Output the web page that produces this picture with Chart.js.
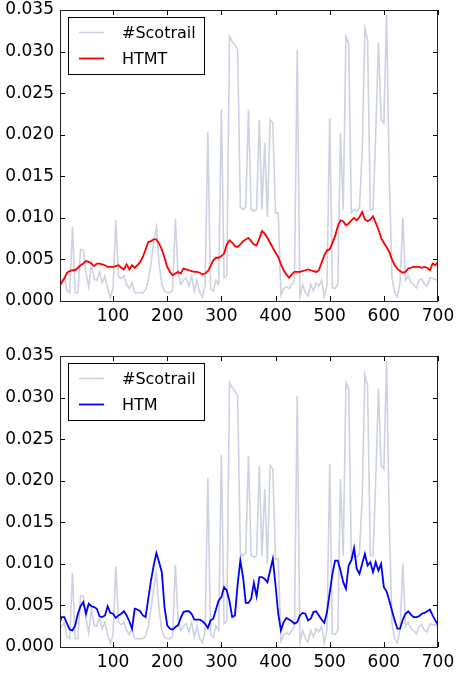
<!DOCTYPE html>
<html>
<head>
<meta charset="utf-8">
<script src="https://cdn.jsdelivr.net/npm/chart.js@4/dist/chart.umd.min.js"></script>
<style>
  html, body { margin: 0; padding: 0; background: #ffffff; }
  .panel { position: absolute; left: 0; width: 456px; height: 337px; }
  #p1 { top: 0; }
  #p2 { top: 337px; }
</style>
</head>
<body>
<div class="panel" id="p1"><canvas id="c1" width="456" height="337"></canvas></div>
<div class="panel" id="p2"><canvas id="c2" width="456" height="337"></canvas></div>
<script>
// ---- data ----
const xValues = [0,5,10,15,20,25,30,35,40,45,50,55,60,65,70,75,80,85,90,95,
100,105,110,115,120,125,130,135,140,145,150,155,160,165,170,175,180,185,190,195,
200,205,210,215,220,225,230,235,240,245,250,255,260,265,270,275,280,285,290,295,
300,305,310,315,320,325,330,335,340,345,350,355,360,365,370,375,380,385,390,395,
400,405,410,415,420,425,430,435,440,445,450,455,460,465,470,475,480,485,490,495,
500,505,510,515,520,525,530,535,540,545,550,555,560,565,570,575,580,585,590,595,
600,605,610,615,620,625,630,635,640,645,650,655,660,665,670,675,680,685,690,695,700];

const scotrail = [0.0019,0.0025,0.0029,0.0012,0.0010,0.0089,0.0010,0.0010,0.0062,0.0061,
0.0034,0.0017,0.0046,0.0026,0.0025,0.0035,0.0022,0.0030,0.0015,0.0004,
0.0015,0.0097,0.0030,0.0027,0.0030,0.0020,0.0015,0.0022,0.0010,0.0010,
0.0010,0.0010,0.0013,0.0025,0.0045,0.0070,0.0089,0.0045,0.0020,0.0012,
0.0010,0.0010,0.0013,0.0099,0.0034,0.0020,0.0025,0.0028,0.0018,0.0030,
0.0012,0.0025,0.0010,0.0005,0.0020,0.0203,0.0015,0.0012,0.0025,0.0020,
0.0231,0.0028,0.0031,0.0318,0.0312,0.0308,0.0302,0.0113,0.0110,0.0113,
0.0230,0.0110,0.0108,0.0110,0.0218,0.0110,0.0190,0.0101,0.0218,0.0214,
0.0106,0.0106,0.0007,0.0015,0.0017,0.0015,0.0020,0.0025,0.0302,0.0005,
0.0020,0.0010,0.0006,0.0020,0.0012,0.0022,0.0018,0.0025,0.0005,0.0020,
0.0220,0.0016,0.0015,0.0020,0.0202,0.0110,0.0318,0.0310,0.0106,0.0110,
0.0108,0.0112,0.0180,0.0328,0.0314,0.0110,0.0110,0.0200,0.0311,0.0218,
0.0214,0.0344,0.0150,0.0029,0.0010,0.0005,0.0022,0.0100,0.0025,0.0030,
0.0022,0.0020,0.0016,0.0025,0.0027,0.0020,0.0018,0.0028,0.0027,0.0026,0.0025];

const htmt = [0.0017,0.0022,0.0027,0.0034,0.0036,0.0037,0.0037,0.0040,0.0043,0.0045,
0.0048,0.0047,0.0045,0.0042,0.0045,0.0045,0.0044,0.0043,0.0041,0.0041,
0.0041,0.0042,0.0043,0.0040,0.0038,0.0044,0.0038,0.0043,0.0040,0.0043,
0.0047,0.0053,0.0062,0.0071,0.0072,0.0074,0.0074,0.0069,0.0062,0.0052,
0.0041,0.0035,0.0031,0.0033,0.0035,0.0033,0.0039,0.0038,0.0037,0.0036,
0.0035,0.0035,0.0034,0.0032,0.0033,0.0036,0.0042,0.0049,0.0052,0.0052,
0.0054,0.0057,0.0068,0.0073,0.0070,0.0066,0.0065,0.0068,0.0072,0.0074,
0.0076,0.0072,0.0068,0.0067,0.0075,0.0084,0.0081,0.0076,0.0070,0.0064,
0.0058,0.0053,0.0044,0.0037,0.0032,0.0028,0.0032,0.0035,0.0035,0.0035,
0.0036,0.0037,0.0038,0.0037,0.0036,0.0035,0.0037,0.0046,0.0055,0.0061,
0.0062,0.0070,0.0078,0.0090,0.0097,0.0096,0.0091,0.0093,0.0097,0.0100,
0.0097,0.0101,0.0107,0.0098,0.0096,0.0098,0.0102,0.0094,0.0086,0.0076,
0.0070,0.0065,0.0059,0.0050,0.0043,0.0039,0.0036,0.0034,0.0035,0.0039,
0.0040,0.0041,0.0041,0.0041,0.0040,0.0041,0.0040,0.0037,0.0045,0.0043,0.0047];

const htm = [0.0026,0.0036,0.0036,0.0028,0.0021,0.0020,0.0026,0.0040,0.0049,0.0054,
0.0040,0.0052,0.0049,0.0048,0.0046,0.0037,0.0036,0.0038,0.0049,0.0041,
0.0040,0.0035,0.0038,0.0040,0.0043,0.0038,0.0031,0.0022,0.0046,0.0045,
0.0043,0.0038,0.0036,0.0058,0.0080,0.0098,0.0113,0.0102,0.0090,0.0048,
0.0026,0.0022,0.0021,0.0024,0.0026,0.0035,0.0042,0.0043,0.0043,0.0040,
0.0033,0.0033,0.0033,0.0031,0.0028,0.0023,0.0032,0.0034,0.0045,0.0056,
0.0060,0.0072,0.0068,0.0055,0.0036,0.0038,0.0075,0.0104,0.0084,0.0053,
0.0053,0.0058,0.0077,0.0061,0.0084,0.0084,0.0082,0.0078,0.0092,0.0106,
0.0074,0.0040,0.0020,0.0030,0.0035,0.0033,0.0031,0.0028,0.0030,0.0038,
0.0041,0.0040,0.0032,0.0034,0.0042,0.0043,0.0038,0.0033,0.0029,0.0042,
0.0065,0.0088,0.0104,0.0104,0.0092,0.0078,0.0070,0.0098,0.0104,0.0119,
0.0094,0.0088,0.0100,0.0112,0.0098,0.0102,0.0090,0.0102,0.0092,0.0100,
0.0072,0.0067,0.0056,0.0044,0.0032,0.0022,0.0022,0.0033,0.0040,0.0043,
0.0039,0.0036,0.0036,0.0037,0.0040,0.0041,0.0043,0.0045,0.0038,0.0032,0.0026];

const xTickValues = [100, 200, 300, 400, 500, 600, 700];
const yTickValues = [0, 0.005, 0.010, 0.015, 0.020, 0.025, 0.030, 0.035];

const grayColor = 'rgb(206,209,226)';

Chart.defaults.font.family = "'DejaVu Sans', 'Liberation Sans', sans-serif";
Chart.defaults.font.size = 17;
Chart.defaults.color = '#000000';

function pts(ys) { return xValues.map((x, i) => ({ x: x, y: ys[i] })); }

// frame + inward tick marks + matplotlib-like legend box
const framePlugin = {
  id: 'mplFrame',
  afterDatasetsDraw(chart) {
    const ctx = chart.ctx;
    const a = chart.chartArea;
    const xs = chart.scales.x, ys = chart.scales.y;
    ctx.save();
    ctx.strokeStyle = '#000000';
    ctx.lineWidth = 1;
    const L = 5;
    ctx.beginPath();
    xTickValues.forEach(v => {
      const px = Math.round(xs.getPixelForValue(v)) + 0.5;
      ctx.moveTo(px, a.bottom); ctx.lineTo(px, a.bottom - L);
      ctx.moveTo(px, a.top); ctx.lineTo(px, a.top + L);
    });
    yTickValues.forEach(v => {
      const py = Math.round(ys.getPixelForValue(v)) + 0.5;
      ctx.moveTo(a.left, py); ctx.lineTo(a.left + L, py);
      ctx.moveTo(a.right, py); ctx.lineTo(a.right - L, py);
    });
    ctx.stroke();
    ctx.strokeStyle = '#222222';
    ctx.strokeRect(Math.round(a.left) + 0.5, Math.round(a.top) + 0.5,
                   Math.round(a.right - a.left) - 1, Math.round(a.bottom - a.top));
    // legend
    const bx = a.left + 8.5, by = a.top + 7.5, bw = 136, bh = 57;
    ctx.fillStyle = '#ffffff';
    ctx.fillRect(bx, by, bw, bh);
    ctx.strokeStyle = '#000000';
    ctx.lineWidth = 1;
    ctx.strokeRect(bx, by, bw, bh);
    ctx.font = "16px 'DejaVu Sans', sans-serif";
    ctx.textBaseline = 'middle';
    ctx.textAlign = 'left';
    chart.data.datasets.forEach((ds, i) => {
      const ry = a.top + 22.5 + i * 26;
      ctx.strokeStyle = ds.borderColor;
      ctx.lineWidth = ds.borderWidth;
      ctx.beginPath();
      ctx.moveTo(a.left + 19, ry);
      ctx.lineTo(a.left + 44, ry);
      ctx.stroke();
      ctx.fillStyle = '#000000';
      ctx.fillText(ds.label, a.left + 62, ry + 1);
    });
    ctx.restore();
  }
};

function makeChart(id, label, values, color, topPad, xAxisHeight) {
  return new Chart(document.getElementById(id), {
    type: 'line',
    data: {
      datasets: [
        { label: '#Scotrail', data: pts(scotrail), borderColor: grayColor, borderWidth: 1.6,
          pointRadius: 0, tension: 0, order: 1 },
        { label: label, data: pts(values), borderColor: color, borderWidth: 1.8,
          pointRadius: 0, tension: 0, order: 0 }
      ]
    },
    options: {
      responsive: false,
      animation: false,
      devicePixelRatio: 1,
      layout: { padding: { top: topPad, right: 18, left: 0, bottom: 0 } },
      plugins: { legend: { display: false }, tooltip: { enabled: false } },
      scales: {
        x: {
          type: 'linear', min: 2, max: 700,
          grid: { display: false, drawTicks: false },
          border: { display: false },
          ticks: { padding: 5, maxRotation: 0, autoSkip: false,
                   callback: v => String(v) },
          afterBuildTicks: s => { s.ticks = xTickValues.map(v => ({ value: v })); },
          afterFit: s => { s.height = xAxisHeight; s.paddingLeft = 0; s.paddingRight = 0; }
        },
        y: {
          type: 'linear', min: 0, max: 0.035,
          grid: { display: false, drawTicks: false },
          border: { display: false },
          ticks: { padding: 6, autoSkip: false, callback: v => v.toFixed(3) },
          afterBuildTicks: s => { s.ticks = yTickValues.map(v => ({ value: v })); },
          afterFit: s => { s.width = 60; s.paddingTop = 0; s.paddingBottom = 0; }
        }
      }
    },
    plugins: [framePlugin]
  });
}

makeChart('c1', 'HTMT', htmt, '#ff0000', 10, 36);
makeChart('c2', 'HTM', htm, '#0000ff', 19, 27);
</script>
</body>
</html>
